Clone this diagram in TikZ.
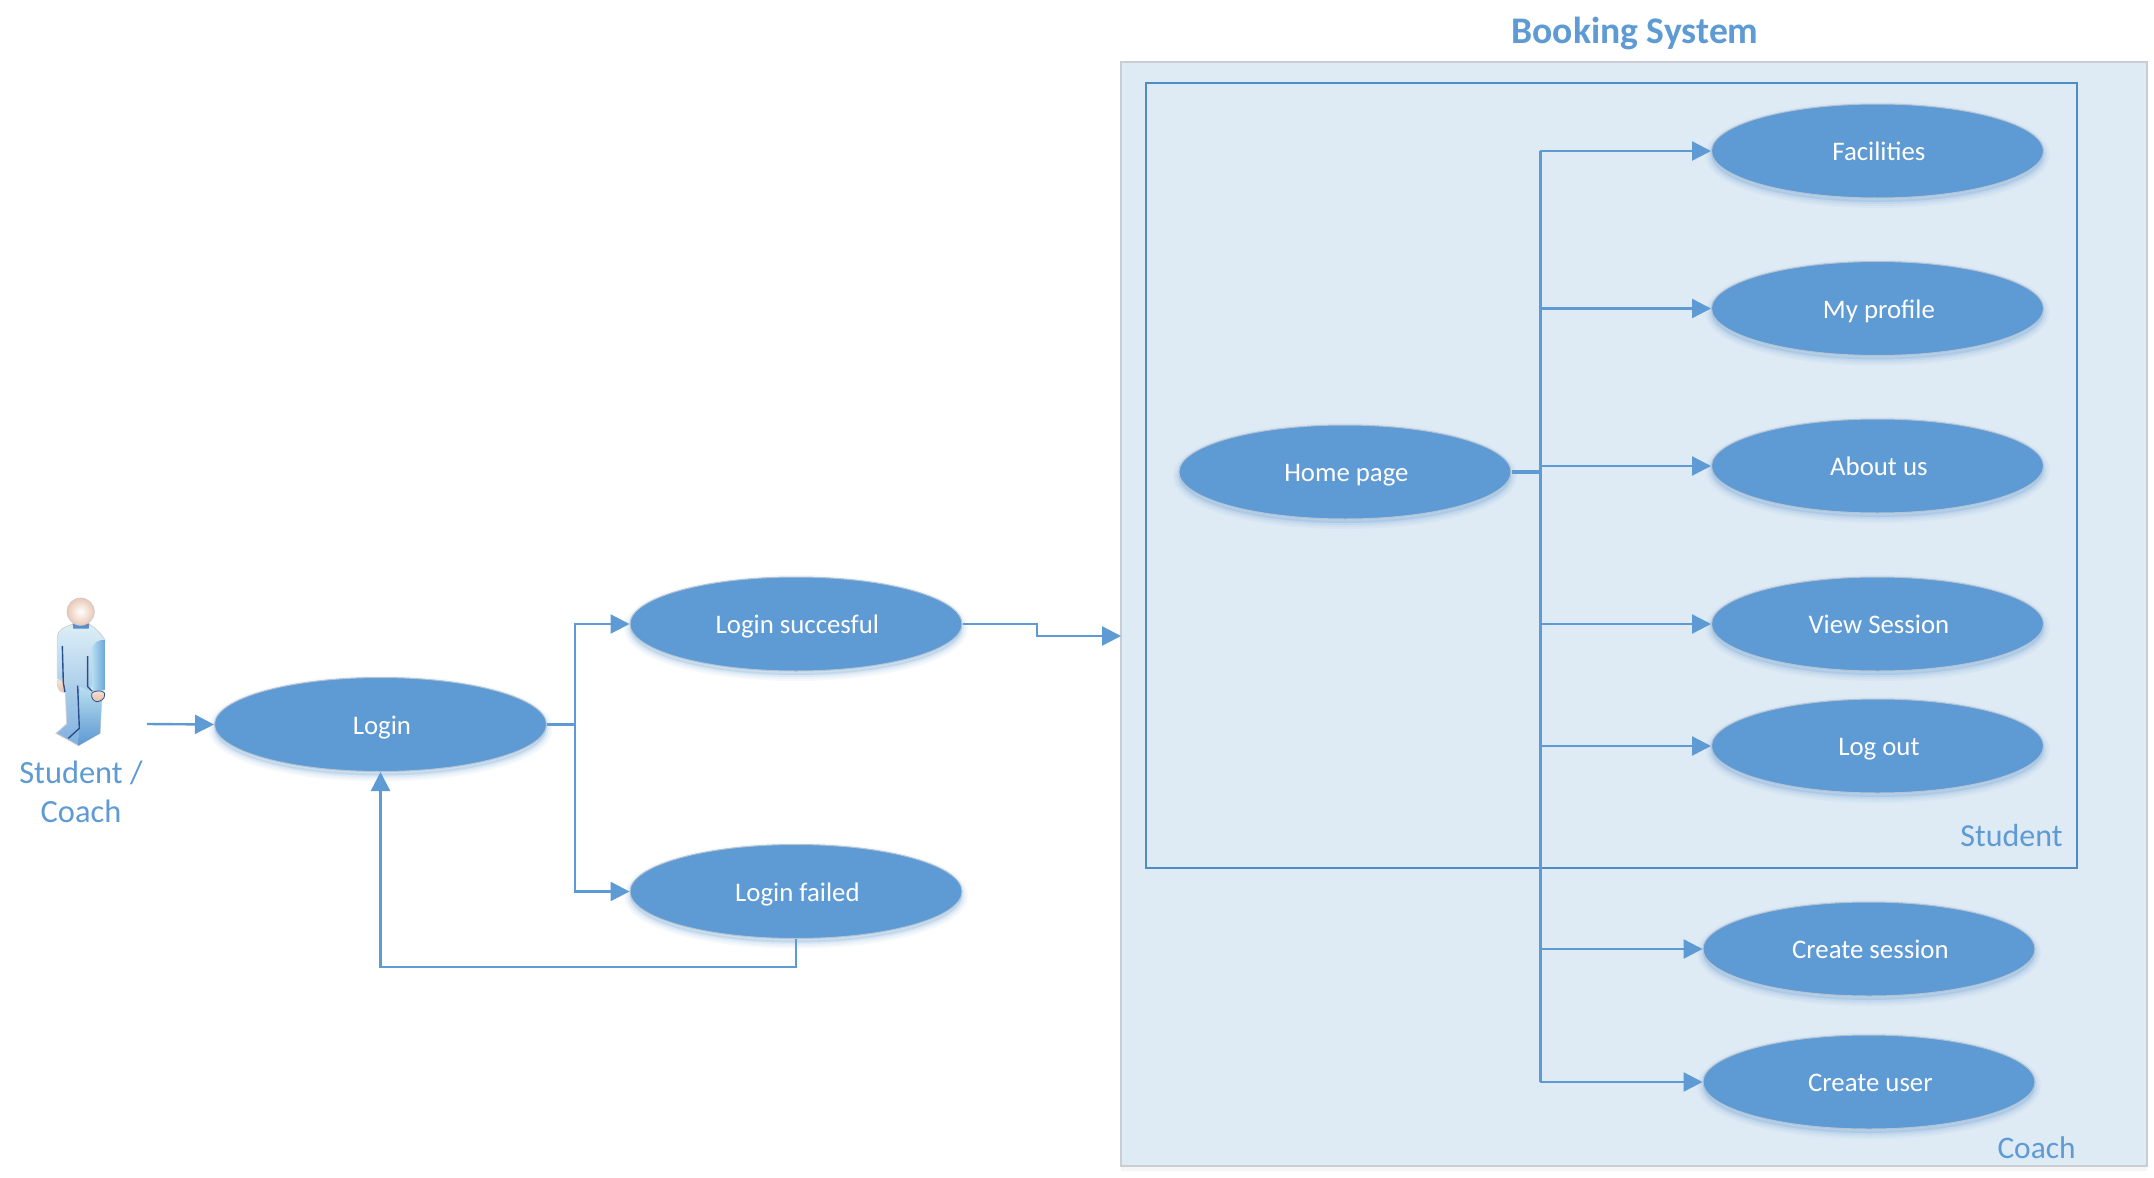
\documentclass[tikz,border=0pt]{standalone}
\usepackage{fontspec}
\setmainfont{Carlito}
\usetikzlibrary{shapes.geometric,arrows.meta,calc}
\definecolor{uiblue}{HTML}{5E9AD3}
\definecolor{boxblue}{HTML}{4F8BC4}
\definecolor{panel}{HTML}{DEEAF4}
\definecolor{panelline}{HTML}{C9CED4}
\definecolor{navy}{HTML}{2A4F8F}
\definecolor{skinA}{HTML}{F5E4DA}
\definecolor{skinB}{HTML}{E9BFA6}
\definecolor{bodyA}{HTML}{DDEFF7}
\definecolor{bodyB}{HTML}{7FB0DE}
\definecolor{legB}{HTML}{5B98D2}
\definecolor{armA}{HTML}{B9DFF0}
\definecolor{armB}{HTML}{6AA7DA}
\definecolor{headout}{HTML}{EBC8B5}
\tikzset{
  softshadow/.style={
    preaction={draw=#1,fill=#1,opacity=.05,line width=6pt,transform canvas={yshift=-2pt}},
    preaction={draw=#1,fill=#1,opacity=.07,line width=4pt,transform canvas={yshift=-2pt}},
    preaction={draw=#1,fill=#1,opacity=.10,line width=2pt,transform canvas={yshift=-2pt}}},
  usecase/.style={ellipse,softshadow=uiblue,fill=uiblue,draw=panelline!80!uiblue,line width=.5pt,
    minimum width=166pt,minimum height=47pt,inner sep=0pt,text=white,font=\fontsize{13.4}{15}\selectfont,
    text height=11pt,text depth=1.4pt,execute at begin node=\hspace*{1.4pt}},
  conn/.style={draw=uiblue,line width=1.2pt},
  arr/.style={conn,-{Triangle[length=9.5pt,width=9.5pt]}},
  heading/.style={text=uiblue,inner sep=0pt},
}
\begin{document}
\begin{tikzpicture}[x=.5pt,y=-.5pt]
\useasboundingbox (0,0) rectangle (2154,1178);
\fill[white] (0,0) rectangle (2154,1178);

% panels
\path[preaction={fill=black,opacity=.04,transform canvas={yshift=-2.5pt}},fill=panel,draw=panelline,line width=.8pt] (1121,62) rectangle (2147,1166);
\coordinate (panelwest) at (1121,636);
\draw[draw=boxblue,line width=1.2pt] (1146,83) rectangle (2077,868);

% labels
\node[heading,font=\fontsize{18.8}{22}\selectfont\bfseries] (title) at (1635,33) {Booking System};
\node[heading,anchor=east,font=\fontsize{16}{18}\selectfont] (studentlabel) at (2063,836) {Student};
\node[heading,anchor=east,font=\fontsize{15.7}{18}\selectfont] (coachlabel) at (2076,1148) {Coach};
\node[heading,align=center,font=\fontsize{16.2}{19.5}\selectfont] (actorlabel) at (81,792) {Student /\\Coach};

% use cases
\node[usecase] (login) at (380.5,724.5) {Login};
\node[usecase] (succ) at (796,624) {Login succesful};
\node[usecase] (fail) at (796,891.5) {Login failed};
\node[usecase] (home) at (1345,472) {Home page};
\node[usecase] (fac) at (1877.5,151) {Facilities};
\node[usecase] (prof) at (1877.5,308.5) {My profile};
\node[usecase] (about) at (1877.5,466) {About us};
\node[usecase] (view) at (1877.5,624) {View Session};
\node[usecase] (logout) at (1877.5,746) {Log out};
\node[usecase] (csess) at (1869,949) {Create session};
\node[usecase] (cuser) at (1869,1082) {Create user};

% actor
\begin{scope}[x=.5pt/3,y=-.5pt/3,shift={(0pt,-285pt)}]
  \path[draw=black!15,line width=.4pt,top color=skinA,bottom color=skinB] (172,330) .. controls (170,350) and (175,368) .. (195,368) -- (200,330) -- cycle;
  \path[draw=black!18,line width=.4pt,top color=bodyA,bottom color=bodyB]
    (218,163) .. controls (195,170) and (172,180) .. (172,200) -- (172,325) -- (195,338)
    -- (200,462) -- (168,490) -- (205,510) -- (235,527) -- (300,490) -- (305,390) -- (270,365) -- (315,210)
    .. controls (300,185) and (280,170) .. (268,163) -- cycle;
  \path[top color=armA,bottom color=legB] (240,350) -- (270,365) -- (305,390) -- (300,490) -- (235,527) -- (238,470) -- cycle;
  \path[left color=armA,right color=armB] (275,240) .. controls (278,215) and (300,208) .. (315,210) -- (315,360) -- (277,365) -- cycle;
  \path[top color=skinA,bottom color=skinB,draw=navy,line width=.4pt] (275,372) .. controls (275,362) and (313,358) .. (314,372) .. controls (316,388) and (300,395) .. (290,395) .. controls (280,393) and (274,385) .. (275,372) -- cycle;
  \draw[navy,line width=.7pt] (187,228) -- (190,338) -- (195,366);
  \draw[navy,line width=.7pt] (263,258) -- (263,350) -- (277,364);
  \draw[navy,line width=.7pt] (233,347) -- (238,475) -- (205,505);
  \fill[uiblue!85!navy] (218,160) -- (268,160) -- (266,176) -- (220,176) -- cycle;
  \fill[red!65!orange] (225,158) rectangle (260,166);
  \shade[inner color=white,outer color=headout,draw=black!20,line width=.4pt] (242,125) circle[radius=6.8pt];
\end{scope}

% connectors
\coordinate (actorout) at (147,724);
\draw[arr] (actorout) -- (login.west);

\coordinate (lj) at (575,724.5);
\coordinate (loopy) at (0,967);
\draw[conn] (login.east) -- (lj);
\draw[arr] (lj) |- (succ.west);
\draw[arr] (lj) |- (fail.west);
\draw[arr] (fail.south) -- (fail.south |- loopy) -- (login.south |- loopy) -- (login.south);

\coordinate (sm) at (1037,624);
\draw[arr] (succ.east) -- (sm) -- (sm |- panelwest) -- (panelwest);

\coordinate (ttop) at (1540,151);
\coordinate (tbot) at (1540,1082);
\draw[conn,line width=1.5pt] (ttop) -- (tbot);
\draw[conn,line width=1.7pt] (home.east) -- (home.east -| ttop);
\foreach \n in {prof,about,view,logout,csess}{
  \draw[arr] (ttop |- \n.west) -- (\n.west);
}
\draw[arr] (ttop) -- (fac.west);
\draw[arr] (tbot) -- (cuser.west);
\end{tikzpicture}
\end{document}
